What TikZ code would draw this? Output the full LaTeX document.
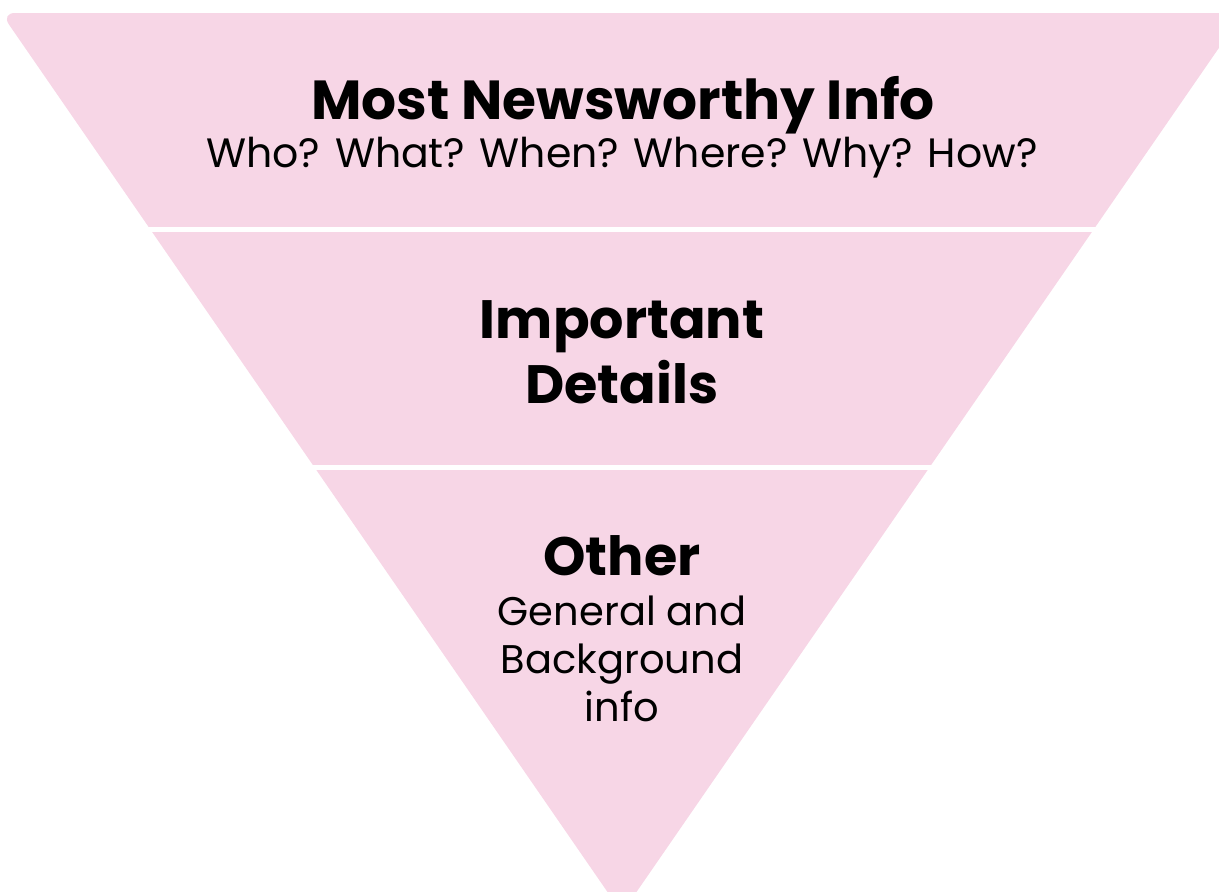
\documentclass[tikz,border=0pt]{standalone}
\usepackage{fontspec}
\setmainfont{Poppins}
\usetikzlibrary{positioning}
\definecolor{funnelpink}{HTML}{F7D6E6}

\begin{document}
\begin{tikzpicture}[x=1pt,y=-1pt]
% Text styles: bold headings and plain lines
\tikzstyle{title text}=[font=\bfseries\fontsize{55}{66}\selectfont,anchor=base,inner sep=0]
\tikzstyle{head text}=[font=\bfseries\fontsize{54}{65}\selectfont,anchor=base,inner sep=0]
\tikzstyle{plain text}=[font=\fontsize{41}{49}\selectfont,anchor=base,inner sep=0]
\tikzstyle{info text}=[font=\fontsize{40}{48}\selectfont,anchor=base,inner sep=0]
\tikzstyle{band gap}=[white,line width=5pt]
\useasboundingbox (0,0) rectangle (1219,892);
\clip (0,0) rectangle (1219,892);
% The funnel
\fill[funnelpink,rounded corners=14] (1,13) -- (1243,13) -- (622,913) -- cycle;
% White gaps between the bands
\coordinate (gap1 west) at (0,229.5);
\coordinate (gap1 east) at (1219,229.5);
\coordinate (gap2 west) at (0,467.5);
\coordinate (gap2 east) at (1219,467.5);
\draw[band gap] (gap1 west) -- (gap1 east);
\draw[band gap] (gap2 west) -- (gap2 east);
% Top band
\node[title text] (newsworthy) at (623,119) {Most Newsworthy Info};
\node[plain text] (questions) at (622,167) {Who? What? When? Where? Why? How?};
% Middle band
\node[head text] (important) at (622,338) {Important};
\node[head text] (details) at (622,403) {Details};
% Bottom band
\node[head text] (other) at (622,575) {Other};
\node[info text] (general) at (622,625) {General and};
\node[info text] (background) at (622,673) {Background};
\node[info text] (info) at (622,721) {info};
\end{tikzpicture}
\end{document}
